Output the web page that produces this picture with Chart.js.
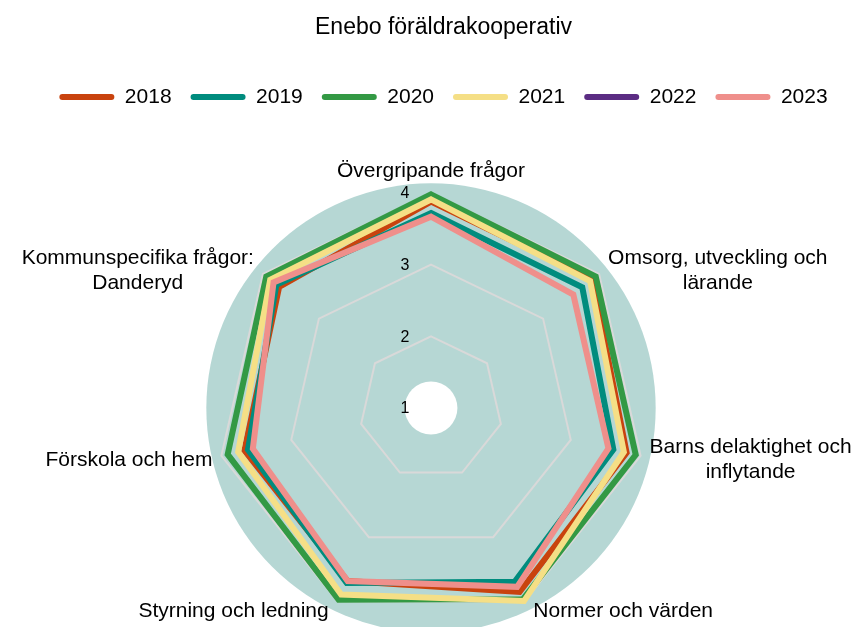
<!DOCTYPE html>
<html>
<head>
    <title>Enebo föräldrakooperativ</title>
    <script src="https://cdn.jsdelivr.net/npm/chart.js"></script>
    <style>
        html, body { margin: 0; padding: 0; background: #fff; overflow: hidden; }
        #wrap { width: 863px; height: 627px; }
    </style>
</head>
<body>
    <div id="wrap"><canvas id="myChart"></canvas></div>

    <script>
        var axisLabels = [
            ["Övergripande frågor"],
            ["Omsorg, utveckling och", "lärande"],
            ["Barns delaktighet och", "inflytande"],
            ["Normer och värden"],
            ["Styrning och ledning"],
            ["Förskola och hem"],
            ["Kommunspecifika frågor:", "Danderyd"]
        ];
        var years = ["2018", "2019", "2020", "2021", "2022", "2023"];
        var values2018 = [3.88, 3.88, 3.80, 3.85, 3.68, 3.67, 3.71];
        var values2019 = [3.72, 3.70, 3.61, 3.69, 3.71, 3.62, 3.76];
        var values2020 = [3.98, 3.94, 3.93, 3.96, 3.97, 3.91, 3.94];
        var values2021 = [3.91, 3.84, 3.76, 3.99, 3.89, 3.76, 3.87];
        var values2022 = [null, null, null, null, null, null, null];
        var values2023 = [3.67, 3.54, 3.54, 3.77, 3.68, 3.55, 3.81];
        var tickValues = [1, 2, 3, 4];

        var seriesValues = [values2018, values2019, values2020, values2021, values2022, values2023];
        var colors = ["#c9430e", "#008c7e", "#339944", "#f5df86", "#5b2c83", "#ef8f8b"];

        Chart.defaults.font.family = "'Liberation Sans', Arial, sans-serif";
        Chart.defaults.color = "#000";

        // teal disc with white hole behind the grid, axis labels and tick labels
        var radarDecor = {
            id: "radarDecor",
            beforeDraw: function (chart) {
                var r = chart.scales.r, ctx = chart.ctx;
                ctx.save();
                ctx.fillStyle = "#b6d7d4";
                ctx.beginPath();
                ctx.arc(r.xCenter, r.yCenter, r.drawingArea * 1.045, 0, Math.PI * 2);
                ctx.fill();
                ctx.fillStyle = "#fff";
                ctx.beginPath();
                ctx.arc(r.xCenter, r.yCenter, r.drawingArea * 0.123, 0, Math.PI * 2);
                ctx.fill();
                ctx.restore();
            },
            beforeDatasetsDraw: function (chart) {
                var r = chart.scales.r, ctx = chart.ctx;
                ctx.save();
                ctx.font = "16px 'Liberation Sans', Arial, sans-serif";
                ctx.fillStyle = "#000";
                ctx.textAlign = "center";
                ctx.textBaseline = "middle";
                r.ticks.forEach(function (t) {
                    var y = r.yCenter - r.getDistanceFromCenterForValue(t.value);
                    ctx.fillText(String(t.value), r.xCenter - 26, y + 1);
                });
                ctx.restore();
            },
            afterDraw: function (chart) {
                var r = chart.scales.r, ctx = chart.ctx;
                var lh = 25, gap = 9;
                ctx.save();
                ctx.font = "21px 'Liberation Sans', Arial, sans-serif";
                ctx.fillStyle = "#000";
                ctx.textAlign = "center";
                ctx.textBaseline = "middle";
                chart.data.labels.forEach(function (lines, i) {
                    var p = r.getPointPosition(i, r.drawingArea);
                    var a = r.getIndexAngle(i);
                    var s = Math.sin(a), c = Math.cos(a);
                    var w = Math.max.apply(null, lines.map(function (l) { return ctx.measureText(l).width; }));
                    var h = lines.length * lh;
                    var cx, cy;
                    if (Math.abs(s) < 0.01) {
                        cx = p.x;
                        cy = p.y - gap - h / 2;
                    } else {
                        cx = p.x + Math.sign(s) * (w / 2 + gap);
                        cy = p.y - 8.5 * c + 2;
                    }
                    lines.forEach(function (l, k) {
                        ctx.fillText(l, cx, cy - h / 2 + lh * (k + 0.5));
                    });
                });
                ctx.restore();
            }
        };

        var datasets = years.map(function (y, i) {
            return {
                label: y,
                data: seriesValues[i],
                borderColor: colors[i],
                backgroundColor: colors[i],
                borderWidth: 6,
                pointRadius: 0,
                pointHoverRadius: 0,
                fill: false,
                order: years.length - i
            };
        });

        var ctx = document.getElementById("myChart").getContext("2d");
        new Chart(ctx, {
            type: "radar",
            data: {
                labels: axisLabels,
                datasets: datasets
            },
            options: {
                responsive: true,
                maintainAspectRatio: false,
                animation: false,
                layout: { padding: { left: 24, right: 0, top: 0, bottom: 0 } },
                plugins: {
                    title: {
                        display: true,
                        text: "Enebo föräldrakooperativ",
                        font: { size: 23, weight: "normal" },
                        color: "#000",
                        padding: { top: 14, bottom: 26 }
                    },
                    legend: {
                        position: "top",
                        labels: {
                            boxWidth: 55,
                            boxHeight: 6,
                            useBorderRadius: true,
                            borderRadius: 3,
                            padding: 19,
                            font: { size: 21 },
                            color: "#000",
                            sort: function (a, b) { return a.datasetIndex - b.datasetIndex; },
                            generateLabels: function (chart) {
                                return Chart.defaults.plugins.legend.labels.generateLabels(chart).map(function (l) {
                                    l.lineWidth = 0;
                                    return l;
                                });
                            }
                        }
                    },
                    tooltip: { enabled: false }
                },
                scales: {
                    r: {
                        min: 1,
                        max: 4,
                        ticks: { stepSize: 1, display: false },
                        grid: { color: "#d9d9d9", lineWidth: 2, circular: false },
                        angleLines: { display: false },
                        pointLabels: { display: false },
                        afterFit: function (scale) {
                            // plot centre and radius as in the reference
                            scale.xCenter = 431;
                            scale.yCenter = 408;
                            scale.drawingArea = 215;
                        }
                    }
                }
            },
            plugins: [radarDecor]
        });
    </script>
</body>
</html>
